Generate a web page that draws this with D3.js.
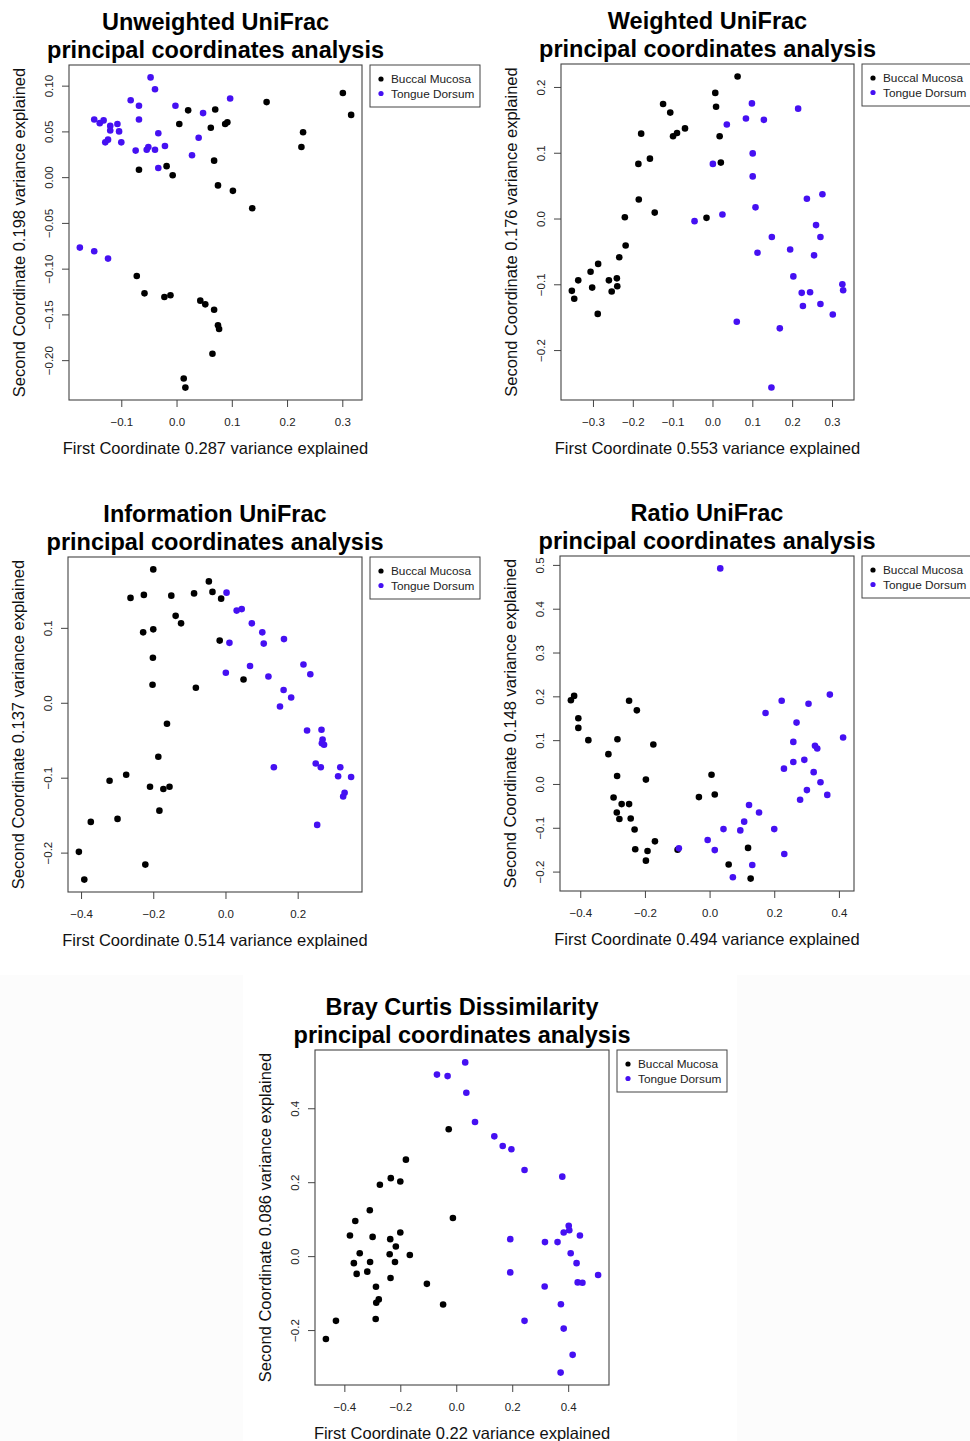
<!DOCTYPE html>
<html>
<head>
<meta charset="utf-8">
<script src="https://cdn.jsdelivr.net/npm/d3@7"></script>
<style>
  body { margin: 0; background: #fff; }
  svg { display: block; font-family: "Liberation Sans", Arial, Helvetica, sans-serif; }
</style>
</head>
<body>
<svg id="chart" width="970" height="1441"></svg>
<script>
// ---- data ([first coord, second coord]) ----
var unweightedBuccal = [[0.301,0.092],[0.316,0.068],[0.163,0.082],[0.021,0.073],[0.070,0.074],[0.005,0.058],[0.062,0.054],[0.088,0.058],[0.092,0.060],[0.229,0.049],[0.226,0.033],[0.068,0.018],[-0.018,0.012],[-0.068,0.008],[-0.007,0.002],[0.075,-0.009],[0.102,-0.015],[0.137,-0.034],[-0.072,-0.108],[-0.058,-0.127],[-0.022,-0.131],[-0.011,-0.129],[0.043,-0.135],[0.052,-0.139],[0.068,-0.145],[0.075,-0.162],[0.077,-0.166],[0.065,-0.193],[0.013,-0.220],[0.016,-0.230]];
var unweightedTongue = [[-0.047,0.109],[-0.039,0.096],[-0.083,0.084],[-0.068,0.078],[-0.002,0.078],[0.097,0.086],[0.048,0.070],[-0.068,0.063],[-0.149,0.063],[-0.132,0.062],[-0.139,0.059],[-0.107,0.058],[-0.120,0.056],[-0.120,0.051],[-0.104,0.050],[-0.033,0.048],[0.040,0.043],[-0.124,0.041],[-0.129,0.038],[-0.100,0.038],[-0.021,0.034],[-0.051,0.033],[-0.054,0.030],[-0.039,0.030],[-0.074,0.029],[0.028,0.024],[-0.033,0.010],[-0.175,-0.077],[-0.149,-0.081],[-0.124,-0.089]];

var weightedBuccal = [[0.063,0.216],[0.007,0.191],[0.009,0.170],[-0.124,0.174],[-0.106,0.161],[-0.179,0.129],[-0.099,0.125],[-0.089,0.130],[-0.069,0.137],[0.018,0.125],[-0.186,0.083],[-0.157,0.091],[0.021,0.085],[-0.185,0.029],[-0.145,0.009],[-0.220,0.002],[-0.015,0.001],[-0.218,-0.041],[-0.234,-0.059],[-0.287,-0.069],[-0.306,-0.081],[-0.337,-0.094],[-0.260,-0.094],[-0.240,-0.091],[-0.302,-0.105],[-0.239,-0.103],[-0.353,-0.110],[-0.253,-0.111],[-0.347,-0.122],[-0.288,-0.145]];
var weightedTongue = [[0.099,0.175],[0.215,0.167],[0.084,0.152],[0.129,0.150],[0.036,0.143],[0.101,0.099],[0.001,0.083],[0.101,0.064],[0.276,0.037],[0.237,0.030],[0.108,0.017],[0.025,0.006],[-0.045,-0.004],[0.260,-0.010],[0.149,-0.028],[0.271,-0.028],[0.195,-0.047],[0.113,-0.052],[0.255,-0.056],[0.203,-0.088],[0.326,-0.100],[0.328,-0.109],[0.224,-0.113],[0.245,-0.112],[0.227,-0.133],[0.271,-0.130],[0.302,-0.146],[0.061,-0.157],[0.169,-0.167],[0.148,-0.257]];

var informationBuccal = [[-0.200,0.178],[-0.046,0.162],[-0.263,0.140],[-0.226,0.144],[-0.150,0.143],[-0.087,0.146],[-0.036,0.148],[-0.012,0.139],[-0.138,0.116],[-0.123,0.106],[-0.228,0.094],[-0.200,0.098],[-0.016,0.083],[-0.201,0.060],[-0.202,0.024],[-0.082,0.020],[0.050,0.031],[-0.162,-0.028],[-0.186,-0.072],[-0.275,-0.096],[-0.321,-0.104],[-0.209,-0.112],[-0.172,-0.115],[-0.155,-0.112],[-0.183,-0.144],[-0.373,-0.159],[-0.299,-0.155],[-0.406,-0.199],[-0.222,-0.216],[-0.391,-0.236]];
var informationTongue = [[0.003,0.147],[0.031,0.123],[0.045,0.125],[0.073,0.106],[0.102,0.094],[0.162,0.085],[0.011,0.080],[0.106,0.079],[0.216,0.051],[0.068,0.049],[0.235,0.038],[0.001,0.040],[0.119,0.035],[0.161,0.017],[0.182,0.007],[0.151,-0.005],[0.226,-0.037],[0.266,-0.036],[0.269,-0.049],[0.267,-0.054],[0.273,-0.056],[0.134,-0.086],[0.250,-0.081],[0.264,-0.086],[0.318,-0.086],[0.312,-0.098],[0.348,-0.099],[0.330,-0.120],[0.326,-0.125],[0.254,-0.163]];

var ratioBuccal = [[-0.429,0.191],[-0.419,0.201],[-0.406,0.150],[-0.406,0.128],[-0.375,0.100],[-0.249,0.190],[-0.225,0.168],[-0.285,0.102],[-0.174,0.090],[-0.313,0.068],[-0.286,0.018],[-0.197,0.010],[0.006,0.021],[-0.297,-0.031],[-0.272,-0.046],[-0.249,-0.046],[-0.033,-0.030],[0.016,-0.024],[-0.287,-0.065],[-0.279,-0.080],[-0.244,-0.079],[-0.232,-0.104],[-0.169,-0.131],[-0.230,-0.149],[-0.192,-0.153],[-0.197,-0.175],[-0.099,-0.150],[0.119,-0.146],[0.059,-0.184],[0.127,-0.216]];
var ratioTongue = [[0.033,0.492],[0.372,0.204],[0.223,0.190],[0.306,0.183],[0.173,0.162],[0.269,0.140],[0.413,0.106],[0.259,0.096],[0.326,0.087],[0.333,0.081],[0.293,0.055],[0.259,0.050],[0.230,0.035],[0.322,0.027],[0.343,0.004],[0.301,-0.014],[0.364,-0.025],[0.280,-0.036],[0.122,-0.048],[0.153,-0.065],[0.107,-0.086],[0.043,-0.103],[0.095,-0.106],[0.200,-0.103],[-0.006,-0.128],[0.016,-0.151],[-0.095,-0.147],[0.231,-0.160],[0.132,-0.185],[0.072,-0.213]];

var brayBuccal = [[-0.027,0.343],[-0.180,0.261],[-0.234,0.211],[-0.200,0.202],[-0.273,0.193],[-0.309,0.124],[-0.361,0.095],[-0.012,0.103],[-0.380,0.056],[-0.299,0.052],[-0.200,0.064],[-0.236,0.046],[-0.216,0.026],[-0.345,0.008],[-0.238,0.005],[-0.166,0.003],[-0.366,-0.019],[-0.308,-0.016],[-0.219,-0.016],[-0.318,-0.042],[-0.356,-0.048],[-0.235,-0.059],[-0.105,-0.075],[-0.287,-0.083],[-0.277,-0.117],[-0.286,-0.126],[-0.047,-0.131],[-0.288,-0.170],[-0.430,-0.175],[-0.466,-0.224]];
var brayTongue = [[0.032,0.524],[-0.069,0.491],[-0.031,0.487],[0.036,0.442],[0.067,0.363],[0.136,0.324],[0.166,0.298],[0.197,0.289],[0.244,0.233],[0.379,0.215],[0.402,0.082],[0.404,0.070],[0.384,0.064],[0.442,0.056],[0.193,0.046],[0.317,0.038],[0.362,0.038],[0.409,0.008],[0.430,-0.019],[0.193,-0.044],[0.507,-0.051],[0.434,-0.071],[0.451,-0.072],[0.316,-0.082],[0.374,-0.130],[0.244,-0.175],[0.384,-0.196],[0.416,-0.267],[0.373,-0.315]];

var titles = ["Unweighted UniFrac", "Weighted UniFrac", "Information UniFrac", "Ratio UniFrac", "Bray Curtis Dissimilarity"];
var firstVariance = ["0.287", "0.553", "0.514", "0.494", "0.22"];
var secondVariance = ["0.198", "0.176", "0.137", "0.148", "0.086"];
var xTicks = [[-0.1,0,0.1,0.2,0.3], [-0.3,-0.2,-0.1,0,0.1,0.2,0.3], [-0.4,-0.2,0,0.2], [-0.4,-0.2,0,0.2,0.4], [-0.4,-0.2,0,0.2,0.4]];
var yTicks = [[-0.20,-0.15,-0.10,-0.05,0,0.05,0.10], [-0.2,-0.1,0,0.1,0.2], [-0.2,-0.1,0,0.1], [-0.2,-0.1,0,0.1,0.2,0.3,0.4,0.5], [-0.2,0,0.2,0.4]];
var groups = ["Buccal Mucosa", "Tongue Dorsum"];

// ---- layout ----
var colors = ["#000000", "#4510f2"];
var boxes = [
  {left: 69,  top: 65,   w: 293, h: 335, yFmt: ".2f"},
  {left: 561, top: 64,   w: 293, h: 336, yFmt: ".1f"},
  {left: 68,  top: 557,  w: 294, h: 335, yFmt: ".1f"},
  {left: 560, top: 556,  w: 294, h: 335, yFmt: ".1f"},
  {left: 315, top: 1050, w: 294, h: 335, yFmt: ".1f"}
];
var pointSets = [
  [unweightedBuccal, unweightedTongue],
  [weightedBuccal, weightedTongue],
  [informationBuccal, informationTongue],
  [ratioBuccal, ratioTongue],
  [brayBuccal, brayTongue]
];

var svg = d3.select("#chart");

// the bottom strip of the picture is a hair grey outside the last panel
svg.append("rect").attr("x", 0).attr("y", 975).attr("width", 970).attr("height", 466).attr("fill", "#fcfcfc");
svg.append("rect").attr("x", 243).attr("y", 975).attr("width", 494).attr("height", 466).attr("fill", "#ffffff");

// R-style range: data extent padded by 4% on each side
function paddedExtent(values){
  var ext = d3.extent(values);
  var pad = (ext[1] - ext[0]) * 0.04;
  return [ext[0] - pad, ext[1] + pad];
}

boxes.forEach(function(b, i){
  var all = pointSets[i][0].concat(pointSets[i][1]);
  var x = d3.scaleLinear().domain(paddedExtent(all.map(function(d){ return d[0]; }))).range([0, b.w]);
  var y = d3.scaleLinear().domain(paddedExtent(all.map(function(d){ return d[1]; }))).range([b.h, 0]);

  var g = svg.append("g").attr("transform", "translate(" + b.left + "," + b.top + ")");

  // title, two lines
  var title = g.append("text")
      .attr("x", b.w / 2)
      .attr("text-anchor", "middle")
      .attr("font-size", 23.5)
      .attr("font-weight", "bold")
      .attr("fill", "#000");
  title.append("tspan").attr("x", b.w / 2).attr("y", -35).text(titles[i]);
  title.append("tspan").attr("x", b.w / 2).attr("y", -7).text("principal coordinates analysis");

  // axes
  var xAxis = g.append("g")
      .attr("transform", "translate(0," + b.h + ")")
      .call(d3.axisBottom(x).tickValues(xTicks[i]).tickFormat(d3.format(".1f")).tickSize(7).tickSizeOuter(0));
  xAxis.select(".domain").remove();
  xAxis.selectAll("line").attr("stroke", "#444");
  xAxis.selectAll("text")
      .attr("y", 26).attr("dy", null)
      .attr("font-size", 11.5)
      .attr("font-family", "'Liberation Sans', Arial, sans-serif")
      .attr("fill", "#222");

  var yAxis = g.append("g")
      .call(d3.axisLeft(y).tickValues(yTicks[i]).tickFormat(d3.format(b.yFmt)).tickSize(7).tickSizeOuter(0));
  yAxis.select(".domain").remove();
  yAxis.selectAll("line").attr("stroke", "#444");
  yAxis.selectAll("text")
      .attr("x", null).attr("dy", null)
      .attr("text-anchor", "middle")
      .attr("transform", "translate(-16,0) rotate(-90)")
      .attr("font-size", 11.5)
      .attr("font-family", "'Liberation Sans', Arial, sans-serif")
      .attr("fill", "#222");

  // axis titles
  g.append("text")
      .attr("x", b.w / 2).attr("y", b.h + 54)
      .attr("text-anchor", "middle")
      .attr("font-size", 16.5)
      .attr("fill", "#111")
      .text("First Coordinate " + firstVariance[i] + " variance explained");
  g.append("text")
      .attr("transform", "translate(-44," + (b.h / 2) + ") rotate(-90)")
      .attr("text-anchor", "middle")
      .attr("font-size", 16.5)
      .attr("fill", "#111")
      .text("Second Coordinate " + secondVariance[i] + " variance explained");

  // points
  pointSets[i].forEach(function(set, k){
    g.append("g").selectAll("circle")
        .data(set)
        .join("circle")
        .attr("cx", function(d){ return x(d[0]); })
        .attr("cy", function(d){ return y(d[1]); })
        .attr("r", 3.3)
        .attr("fill", colors[k]);
  });

  // plot box
  g.append("rect")
      .attr("width", b.w).attr("height", b.h)
      .attr("fill", "none")
      .attr("stroke", "#444")
      .attr("stroke-width", 1.1);

  // legend to the right of the box
  var lg = g.append("g").attr("transform", "translate(" + (b.w + 8) + ",0)");
  lg.append("rect")
      .attr("width", 110).attr("height", 42)
      .attr("fill", "#fff")
      .attr("stroke", "#444");
  groups.forEach(function(name, k){
    lg.append("circle").attr("cx", 11).attr("cy", 14 + k * 14.5).attr("r", 2.6).attr("fill", colors[k]);
    lg.append("text")
        .attr("x", 21).attr("y", 18 + k * 14.5)
        .attr("font-size", 11.8)
        .attr("fill", "#222")
        .text(name);
  });
});
</script>
</body>
</html>
